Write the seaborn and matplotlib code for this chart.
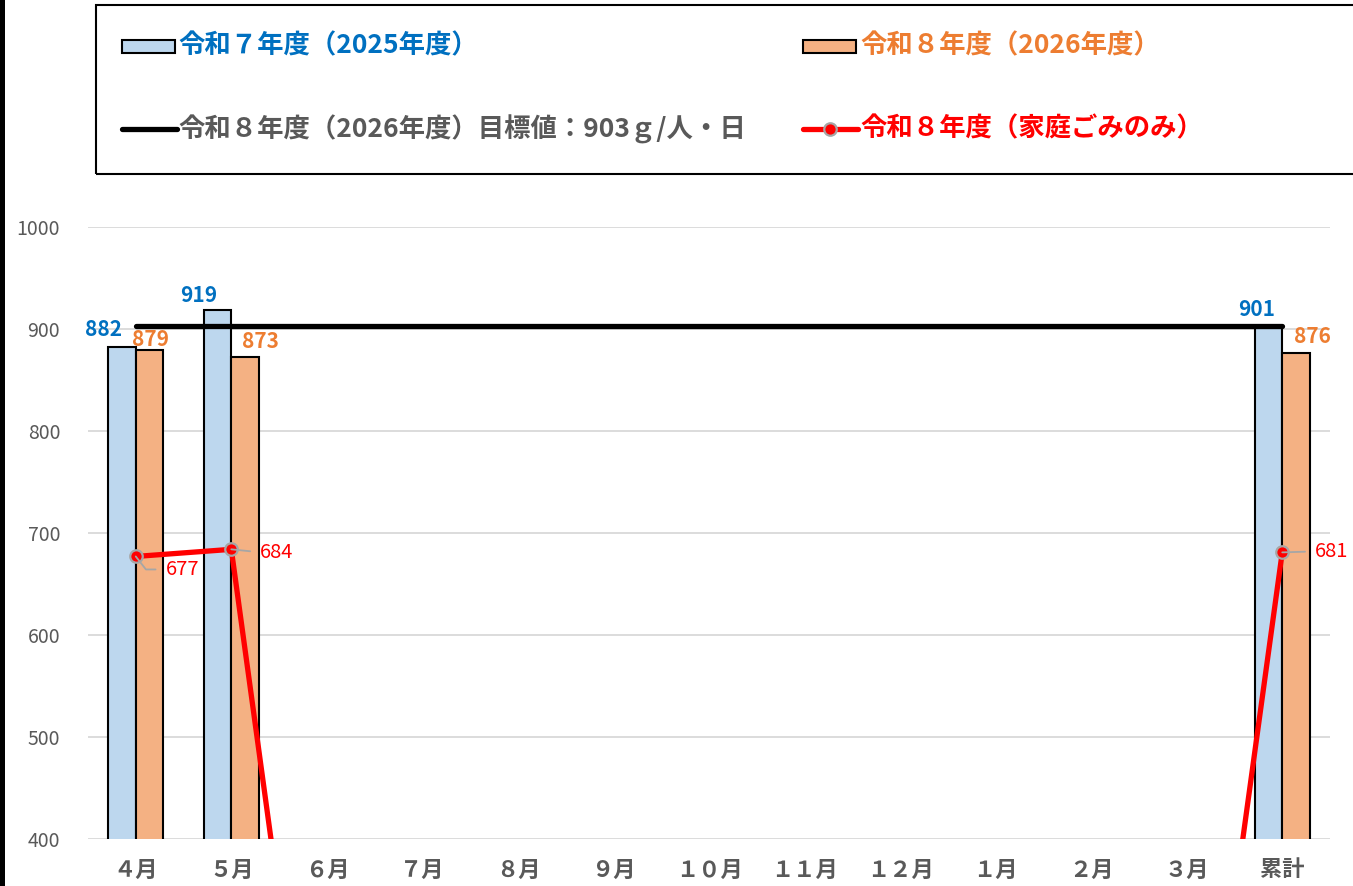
import matplotlib
matplotlib.use("Agg")
import matplotlib.pyplot as plt
import seaborn as sns
import pandas as pd
import numpy as np
from matplotlib.patches import Rectangle
from matplotlib.lines import Line2D

# ---------------- data ----------------
categories = ["４月", "５月", "６月", "７月", "８月", "９月", "１０月", "１１月",
              "１２月", "１月", "２月", "３月", "累計"]
r7_values = [882, 919, 0, 0, 0, 0, 0, 0, 0, 0, 0, 0, 901]
r8_values = [879, 873, 0, 0, 0, 0, 0, 0, 0, 0, 0, 0, 876]
household_values = [677, 684, 0, 0, 0, 0, 0, 0, 0, 0, 0, 0, 681]
target_values = [903] * 13
y_ticks = [400, 500, 600, 700, 800, 900, 1000]

name_r7 = "令和７年度（2025年度）"
name_r8 = "令和８年度（2026年度）"
name_target = "令和８年度（2026年度）目標値：903ｇ/人・日"
name_house = "令和８年度（家庭ごみのみ）"

# ---------------- style ----------------
sns.set_theme(style="white")
plt.rcParams['font.family'] = ['Noto Sans CJK JP', 'DejaVu Sans']

W, H = 1353, 886
fig = plt.figure(figsize=(W / 100, H / 100), dpi=100)
ax = fig.add_axes([88 / W, 1 - 839 / H, (1330 - 88) / W, (839 - 227) / H])

C_BLUE, C_ORANGE = "#BDD7EE", "#F4B183"
T_BLUE, T_ORANGE, T_GRAY, RED = "#0070C0", "#ED7D31", "#595959", "#FF0000"

df = pd.DataFrame({
    "month": categories * 2,
    "value": r7_values + r8_values,
    "series": [name_r7] * len(categories) + [name_r8] * len(categories),
})
sns.barplot(data=df, x="month", y="value", hue="series", order=categories,
            hue_order=[name_r7, name_r8], palette=[C_BLUE, C_ORANGE],
            saturation=1, edgecolor="black", linewidth=1.5, width=0.58, gap=0,
            legend=False, ax=ax, zorder=2)

xs = np.arange(len(categories))
sns.lineplot(x=xs, y=target_values, color="black", linewidth=3.8, ax=ax,
             zorder=3, legend=False)
sns.lineplot(x=xs, y=household_values, color=RED, linewidth=3.8, marker="o",
             markersize=9, markerfacecolor=RED, markeredgecolor="#A6A6A6",
             markeredgewidth=1.6, ax=ax, zorder=4, legend=False)

ax.set_xlim(-0.5, len(categories) - 0.5)
ax.set_ylim(400, 1000)
ax.set_yticks(y_ticks)
ax.yaxis.grid(True, color="#D9D9D9", linewidth=1.3)
ax.xaxis.grid(False)
ax.set_axisbelow(True)
for s in ax.spines.values():
    s.set_visible(False)
ax.set_xlabel("")
ax.set_ylabel("")
ax.tick_params(axis="y", length=0, pad=20, labelsize=14, labelcolor=T_GRAY)
ax.tick_params(axis="x", length=0, pad=14, labelsize=16, labelcolor=T_GRAY)
for lab in ax.get_xticklabels():
    lab.set_fontweight("bold")

# ---------------- data labels ----------------
bw = 0.29
blue_off = {0: (-18, 18), 1: (-19, 14), 12: (-12, 18)}
orange_off = {0: (1, 11), 1: (15, 15), 12: (16, 17)}
for i, (dx, dy) in blue_off.items():
    ax.annotate(f"{r7_values[i]}", (i - bw / 2, r7_values[i]), xytext=(dx, dy),
                textcoords="offset pixels", ha="center", va="center",
                color=T_BLUE, fontweight="bold", fontsize=15, zorder=6)
for i, (dx, dy) in orange_off.items():
    ax.annotate(f"{r8_values[i]}", (i + bw / 2, r8_values[i]), xytext=(dx, dy),
                textcoords="offset pixels", ha="center", va="center",
                color=T_ORANGE, fontweight="bold", fontsize=15, zorder=6)

red_off = {0: (30, -13, "angle,angleA=0,angleB=-52,rad=0"),
           1: (29, -3, "arc3,rad=0"),
           12: (33, 1, "arc3,rad=0")}
for i, (dx, dy, cs) in red_off.items():
    ax.annotate(f"{household_values[i]}", (i, household_values[i]),
                xytext=(dx, dy), textcoords="offset pixels",
                ha="left", va="center", color=RED, fontsize=14.5, zorder=6,
                arrowprops=dict(arrowstyle="-", color="#A6A6A6", lw=1.3,
                                relpos=(0, 0.5), shrinkA=5, shrinkB=0,
                                connectionstyle=cs))

# ---------------- legend (manual box) ----------------
def P(x, y):
    return (x / W, 1 - y / H)

fig.add_artist(Rectangle(P(96, 174), (1400 - 96) / W, (174 - 5) / H,
                         transform=fig.transFigure, fill=False,
                         edgecolor="black", linewidth=1.5))
fig.add_artist(Rectangle(P(0, 886), 5 / W, 1, transform=fig.transFigure,
                         facecolor="black", edgecolor="none"))

fig.add_artist(Rectangle(P(122, 53), 53 / W, 13 / H, transform=fig.transFigure,
                         facecolor=C_BLUE, edgecolor="black", linewidth=1.5))
fig.add_artist(Rectangle(P(803, 53), 53 / W, 13 / H, transform=fig.transFigure,
                         facecolor=C_ORANGE, edgecolor="black", linewidth=1.5))
fig.add_artist(Line2D([122 / W, 177 / W], [1 - 129 / H] * 2,
                      transform=fig.transFigure, color="black", linewidth=3.8,
                      solid_capstyle="round"))
fig.add_artist(Line2D([803 / W, 858 / W], [1 - 129 / H] * 2,
                      transform=fig.transFigure, color=RED, linewidth=3.8,
                      solid_capstyle="round"))
fig.add_artist(Line2D([830 / W], [1 - 129 / H], transform=fig.transFigure,
                      marker="o", markersize=9, markerfacecolor=RED,
                      markeredgecolor="#A6A6A6", markeredgewidth=1.6,
                      linestyle="none"))

fs_leg = 19
fig.text(*P(178, 46), name_r7, color=T_BLUE, fontsize=fs_leg,
         fontweight="bold", ha="left", va="center")
fig.text(*P(860, 46), name_r8, color=T_ORANGE, fontsize=fs_leg,
         fontweight="bold", ha="left", va="center")
fig.text(*P(178, 129), name_target, color=T_GRAY, fontsize=fs_leg,
         fontweight="bold", ha="left", va="center")
fig.text(*P(860, 129), name_house, color=RED, fontsize=fs_leg,
         fontweight="bold", ha="left", va="center")

fig.savefig("out.png", dpi=100, facecolor="white")
